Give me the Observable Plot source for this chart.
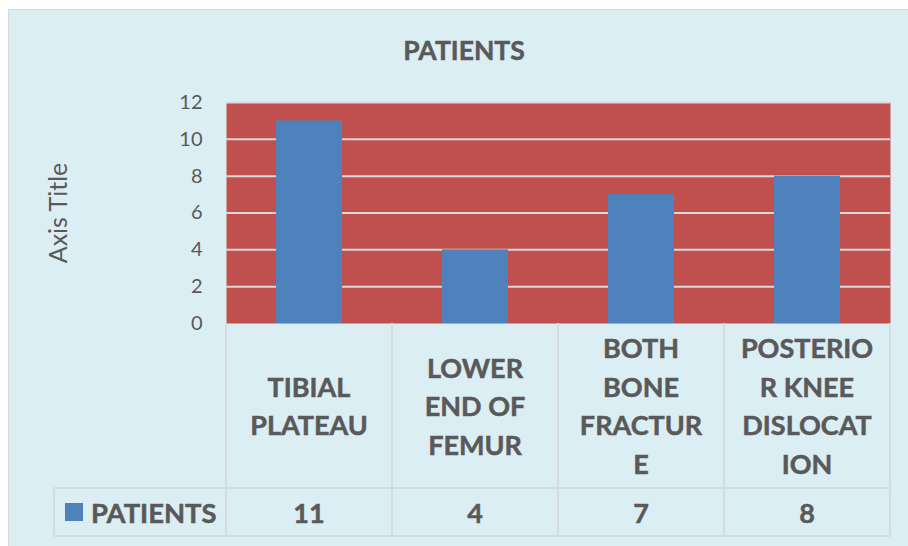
<!DOCTYPE html>
<html><head><meta charset="utf-8">
<script src="https://cdn.jsdelivr.net/npm/d3@7"></script>
<script src="https://cdn.jsdelivr.net/npm/@observablehq/plot@0.6"></script>
<style>
body{margin:0;background:#fff;width:908px;height:546px;overflow:hidden;position:relative;font-family:Lato,"Open Sans",sans-serif}
#frame{position:absolute;left:8px;top:9px;width:912px;height:545px;background:#dbeef4;border:1.5px solid #d9d9d9;box-sizing:border-box}
#title{position:absolute;left:0;width:928px;text-align:center;top:34px;font-weight:bold;font-size:26.5px;color:#595959;line-height:32px;-webkit-text-stroke:0.5px #595959}
#chart{position:absolute;left:0;top:0}
</style></head><body>
<div id="frame"></div><div id="title"></div><div id="chart"></div>
<script>
const title = "PATIENTS";
const seriesName = "PATIENTS";
const axisTitle = "Axis Title";
const categories = ["TIBIAL PLATEAU", "LOWER END OF FEMUR", "BOTH BONE FRACTURE", "POSTERIOR KNEE DISLOCATION"];
const categoryLines = [["TIBIAL", "PLATEAU"], ["LOWER", "END OF", "FEMUR"], ["BOTH", "BONE", "FRACTUR", "E"], ["POSTERIO", "R KNEE", "DISLOCAT", "ION"]];
const patients = [11, 4, 7, 8];
const yTicks = [0, 2, 4, 6, 8, 10, 12];

const data = categories.map((c, i) => ({category: c, value: patients[i]}));
document.getElementById("title").textContent = title;

const W = 908, H = 546;
const textColor = "#595959";
const chart = Plot.plot({
  width: W, height: H,
  marginLeft: 226, marginRight: 18, marginTop: 102, marginBottom: 223,
  style: {background: "transparent", fontFamily: "Lato, 'Open Sans', sans-serif", fontSize: "20px", color: textColor, overflow: "visible"},
  x: {domain: categories, padding: 0, axis: null},
  y: {domain: [0, 12], label: null},
  marks: [
    Plot.frame({fill: "#c0504d", stroke: null}),
    Plot.gridY(yTicks.filter(d => d > 0), {stroke: "#d9d9d9", strokeOpacity: 1, strokeWidth: 2}),
    Plot.axisY(yTicks, {tickSize: 0, tickPadding: 24, label: null, fill: textColor, fontSize: 20}),
    Plot.text([axisTitle], {frameAnchor: "left", textAnchor: "middle", lineAnchor: "middle", rotate: -90, dx: -168, fontSize: 25, fill: textColor}),
    Plot.barY(data, {x: "category", y: "value", fill: "#4f81bd", insetLeft: 50, insetRight: 50})
  ]
});
document.getElementById("chart").appendChild(chart);

// Data table drawn with the plot's own scales
const xs = chart.scale("x"), ys = chart.scale("y");
const bw = xs.bandwidth;
const tTop = ys.apply(0);
const headerH = 165, rowH = 48, labelLeft = 54;
const headerBottom = tTop + headerH, tBottom = headerBottom + rowH;
const tRight = xs.apply(categories[categories.length - 1]) + bw;
const svg = d3.select(chart);
const g = svg.append("g").attr("text-anchor", "start");
const line = (x1, y1, x2, y2) => g.append("line").attr("x1", x1).attr("y1", y1).attr("x2", x2).attr("y2", y2)
  .attr("stroke", "#d6dcde").attr("stroke-width", 2);
categories.forEach(c => line(xs.apply(c), tTop, xs.apply(c), tBottom));
line(tRight, tTop, tRight, tBottom);
line(labelLeft, headerBottom, tRight, headerBottom);
line(labelLeft, tBottom, tRight, tBottom);
line(labelLeft, headerBottom, labelLeft, tBottom);

const bold = sel => sel.attr("font-weight", "bold").attr("fill", textColor)
  .attr("stroke", textColor).attr("stroke-width", 0.5).attr("dominant-baseline", "central");
const lh = 38.5;
categories.forEach((c, i) => {
  const lines = categoryLines[i];
  const cx = xs.apply(c) + bw / 2;
  const cy = tTop + headerH / 2;
  lines.forEach((t, j) => {
    bold(g.append("text").attr("x", cx).attr("y", cy + (j - (lines.length - 1) / 2) * lh)
      .attr("text-anchor", "middle").attr("font-size", 27)).text(t);
  });
  bold(g.append("text").attr("x", cx).attr("y", headerBottom + rowH / 2)
    .attr("text-anchor", "middle").attr("font-size", 27)).text(patients[i]);
});
g.append("rect").attr("x", 65).attr("y", headerBottom + rowH / 2 - 9).attr("width", 18).attr("height", 18).attr("fill", "#4f81bd");
bold(g.append("text").attr("x", 91).attr("y", headerBottom + rowH / 2).attr("text-anchor", "start").attr("font-size", 27.4)).text(seriesName);
</script>
</body></html>
